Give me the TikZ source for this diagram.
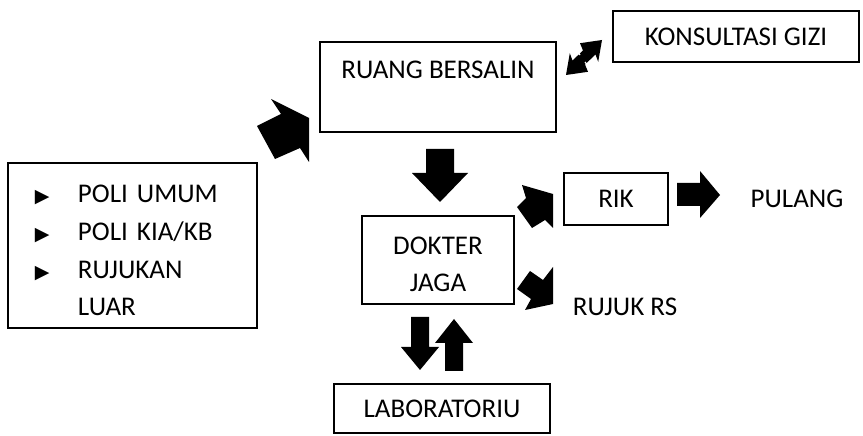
\documentclass[tikz,border=0pt]{standalone}
\usepackage{fontspec}
\setmainfont{Carlito}
\newfontfamily\simbol{DejaVu Sans}
\usetikzlibrary{positioning}

\tikzset{
  kotak/.style={draw,line width=1.6bp,rectangle,inner sep=0pt,align=center},
  panah/.style={fill=black},
  teks/.style={font=\fontsize{27bp}{32bp}\selectfont},
}
\newcommand{\butir}{\makebox[43bp][l]{\simbol\fontsize{19bp}{19bp}\selectfont ▶}}

\begin{document}
\begin{tikzpicture}[x=1bp,y=-1bp,line join=miter,every node/.style={teks}]
\useasboundingbox (0,0) rectangle (863,436);
%%
\node (ruang) at (438,87) [kotak,minimum width=236bp,minimum height=90bp,text height=37bp,text depth=53bp] {RUANG BERSALIN};
  \node (gizi) at (736,36.5) [kotak,minimum width=246bp,minimum height=51bp] {KONSULTASI GIZI};
  \node (kiri) at (132.5,245.5) [kotak,minimum width=249bp,minimum height=165bp,text width=195bp,inner xsep=27bp,align=left,font=\fontsize{27bp}{37.7bp}\selectfont]
    {\rule{0pt}{28bp}\butir POLI UMUM\\ \butir POLI KIA/KB\\ \butir RUJUKAN\\ \hspace*{43bp}LUAR};
  \node (dokter) at (438,260) [kotak,minimum width=152bp,minimum height=88bp,font=\fontsize{27bp}{37bp}\selectfont] {\rule{0pt}{27bp}DOKTER\\JAGA};
  \node (rik) at (616,199) [kotak,minimum width=104bp,minimum height=52bp] {RIK};
  \node (lab) at (442,408.5) [kotak,minimum width=216bp,minimum height=49bp] {LABORATORIU};
  \node (pulang) at (797,199) {PULANG};
  \node (rujuk) at (625,307) {RUJUK RS};
%
\fill [panah] (271,99) -- (309,118) -- (309,162) -- (300,148) -- (275,159) -- (257,126) -- (281,114) -- cycle;
  \fill [panah] (426,149) -- (454,149) -- (454,173) -- (468,173) -- (440,202) -- (412,173) -- (426,173) -- cycle;
  \fill [panah] (522,185) -- (553,194) -- (553,228) -- (545,220) -- (532,228) -- (517,207) -- (526,198) -- cycle;
  \fill [panah] (553,267) -- (543,280) -- (530,271) -- (517,289) -- (531,299) -- (525,310) -- (553,304) -- cycle;
  \fill [panah] (677,183) -- (700,183) -- (700,171) -- (720,195) -- (700,218) -- (700,206) -- (677,206) -- cycle;
  \fill [panah] (411,317) -- (429,317) -- (429,347) -- (439,347) -- (420,370) -- (401,347) -- (411,347) -- cycle;
  \fill [panah] (445,371) -- (463,371) -- (463,343) -- (473,343) -- (454,319) -- (435,343) -- (445,343) -- cycle;
  \fill [panah] (566,75) -- (588,71.8) -- (585,64.5) -- (595.5,54.5) -- (598.2,61.8) -- (602,40) -- (580,43.2) -- (583,50.5) -- (572.5,60.5) -- (569.8,53.2) -- cycle;
  \draw [white,line width=1.2bp] (576,49) -- (580,55) (585,62) -- (589,67);
%
\end{tikzpicture}
\end{document}
